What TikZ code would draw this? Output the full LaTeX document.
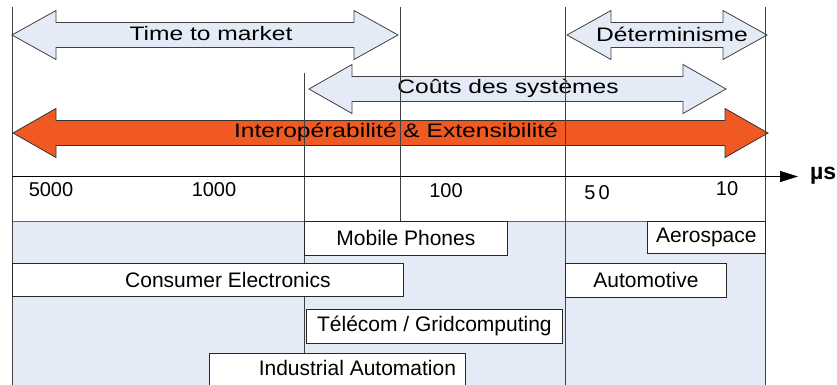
\documentclass[tikz,border=0pt]{standalone}
\usepackage{fontspec}
\setmainfont{Liberation Sans}
\newfontfamily\widefont[FakeStretch=1.26]{Liberation Sans}
\usetikzlibrary{arrows.meta,positioning}
\definecolor{bandblue}{RGB}{228,235,246}
\definecolor{hotorange}{RGB}{240,90,34}
% block arrow with two heads: style, left tip, right tip, mid y, head length
\newcommand{\dblarrow}[5]{%
  \draw[#1] (#2,#4) -- ({#2+#5},{#4-24.5}) -- ({#2+#5},{#4-12.5})
    -- ({#3-#5},{#4-12.5}) -- ({#3-#5},{#4-24.5}) -- (#3,#4)
    -- ({#3-#5},{#4+24.5}) -- ({#3-#5},{#4+12.5}) -- ({#2+#5},{#4+12.5})
    -- ({#2+#5},{#4+24.5}) -- cycle;}

\begin{document}
\begin{tikzpicture}[
  x=1pt, y=-1pt,
  band/.style={draw=black!75, line width=0.8pt, fill=bandblue},
  hot/.style={draw=black!80, line width=0.8pt, fill=hotorange},
  bandlabel/.style={inner sep=0pt, font=\widefont\fontsize{19.5}{22}\selectfont},
  grid/.style={draw=black!75, line width=1pt},
  tick/.style={inner sep=0pt, font=\fontsize{20}{22}\selectfont},
  sector/.style={draw=black!85, fill=white, line width=0.8pt, anchor=north west,
    inner sep=0pt, font=\fontsize{21}{24}\selectfont},
  every label/.append style={inner sep=0pt, font=\fontsize{21}{24}\selectfont},
]
  \useasboundingbox (0,0) rectangle (837,385);

  \filldraw[fill=bandblue, draw=black!60, line width=0.8pt] (12,221) rectangle (765,392);

  \dblarrow{band}{12}{398}{35}{44}
  \dblarrow{band}{567}{767}{35}{44}
  \dblarrow{band}{309}{726}{89}{43}
  \dblarrow{hot}{13}{768}{133}{43}

  \node[bandlabel] (ttm)    at (211,34)  {Time to market};
  \node[bandlabel] (determ) at (672,34)  {Déterminisme};
  \node[bandlabel] (couts)  at (508,88)  {Coûts des systèmes};
  \node[bandlabel] (interop) at (396,132) {Interopérabilité \& Extensibilité};

  \foreach \xa/\ya/\yb in {12/7/385, 304/73/385, 400/7/221, 565/7/385, 765/7/385}
    \draw[grid] (\xa,\ya) -- (\xa,\yb);

  \node[anchor=west, inner sep=0pt, font=\bfseries\fontsize{23}{26}\selectfont] (unit) at (810,176) {µs};
  \coordinate (origin) at (12,176.5);
  \coordinate (axisend) at (798,176.5);
  \draw[grid, draw=black, -{Triangle[length=18pt,width=11pt]}] (origin) -- (axisend);

  \node[tick] (t5000) at (51,190)  {5000};
  \node[tick] (t1000) at (214,190) {1000};
  \node[tick] (t100)  at (446,191) {100};
  \node[tick] (t50)   at (597,193) {5\kern3pt0};
  \node[tick] (t10)   at (727,189) {10};

  \node[sector, minimum width=203pt, minimum height=34pt] (mobile) at (304,221) {Mobile Phones};
  \node[sector, minimum width=391pt, minimum height=33pt,
    label={[xshift=20pt]center:Consumer Electronics}] (consumer) at (12,263) {};
  \node[sector, minimum width=256pt, minimum height=34pt] (telecom) at (306,309) {Télécom / Gridcomputing};
  \node[sector, minimum width=256pt, minimum height=38pt,
    label={[xshift=20pt, yshift=4pt]center:Industrial Automation}] (industry) at (209,353) {};
  \node[sector, minimum width=118pt, minimum height=32pt] (aero) at (647,221) {Aerospace};
  \node[sector, minimum width=161pt, minimum height=34pt] (auto) at (565,263) {Automotive};
\end{tikzpicture}
\end{document}
